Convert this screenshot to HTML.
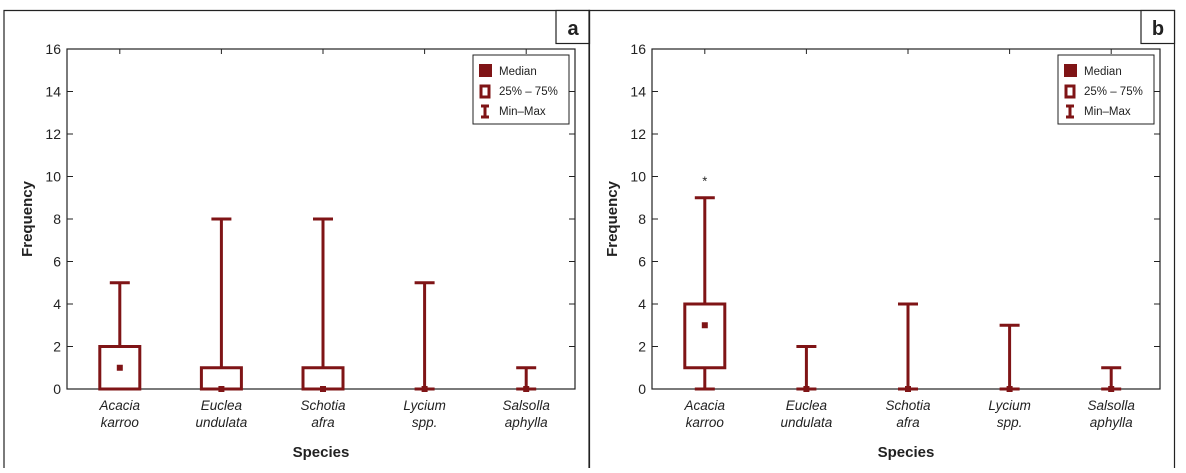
<!DOCTYPE html>
<html><head><meta charset="utf-8"><style>
body{margin:0;background:#fff;}
svg text{font-family:"Liberation Sans",sans-serif;fill:#222;}
</style></head><body>
<svg id="c" width="1186" height="468" xmlns="http://www.w3.org/2000/svg"></svg>
<script>
const categories=[["Acacia","karroo"],["Euclea","undulata"],["Schotia","afra"],["Lycium","spp."],["Salsolla","aphylla"]];
const aMin=[0,0,0,0,0];
const aMax=[5,8,8,5,1];
const aQ1=[0,0,0,0,0];
const aQ3=[2,1,1,0,0];
const aMed=[1,0,0,0,0];
const bMin=[0,0,0,0,0];
const bMax=[9,2,4,3,1];
const bQ1=[1,0,0,0,0];
const bQ3=[4,0,0,0,0];
const bMed=[3,0,0,0,0];
const bOutlier=[10,null,null,null,null];
const yTicks=[0,2,4,6,8,10,12,14,16];
const C="#7f1416";
const svg=document.getElementById('c');
const NS="http://www.w3.org/2000/svg";
function mk(t,a,p){const e=document.createElementNS(NS,t);for(const k in a)e.setAttribute(k,a[k]);(p||svg).appendChild(e);return e;}
function panel(id,ox,lab,mn,mx,q1,q3,md,out){
  const g=mk('g',{});
  
  
  mk('path',{d:`M${ox+4} 468 V10.5 H${ox+589.5} V468`,fill:'none',stroke:'#222','stroke-width':1.2},g);
  const lb=mk('rect',{x:ox+556,y:10.5,width:33.5,height:33,fill:'#fff',stroke:'#222','stroke-width':1.2},g);
  
  
  const lt=mk('text',{x:ox+573,y:35,'font-size':20,'font-weight':'bold','text-anchor':'middle'},g);lt.textContent=id;
  
  
  const L=ox+67,R=ox+575,T=49,B=389;
  const y=v=>B-(v/16)*(B-T);
  const x=i=>L+(i+0.5)*(R-L)/5+2;
  mk('rect',{x:L,y:T,width:R-L,height:B-T,fill:'none',stroke:'#222','stroke-width':1.2},g);
  yTicks.forEach(t=>{mk('line',{x1:L,x2:L+6,y1:y(t),y2:y(t),stroke:'#222'},g);mk('line',{x1:R,x2:R-6,y1:y(t),y2:y(t),stroke:'#222'},g);
    const tx=mk('text',{x:L-6,y:y(t)+5,'font-size':14,'text-anchor':'end'},g);tx.textContent=t;
    
    });
  const yt=mk('text',{x:0,y:0,'font-size':15,'font-weight':'bold','text-anchor':'middle',transform:`translate(${ox+32},${(T+B)/2}) rotate(-90)`},g);yt.textContent='Frequency';
  
  
  const xt=mk('text',{x:(L+R)/2,y:457,'font-size':15,'font-weight':'bold','text-anchor':'middle'},g);xt.textContent='Species';
  
  
  categories.forEach((c,i)=>{const cx=x(i);
    mk('line',{x1:cx,x2:cx,y1:T,y2:T+5,stroke:'#222'},g);
    const t1=mk('text',{x:cx,y:410,'font-size':13.5,'font-style':'italic','text-anchor':'middle'},g);t1.textContent=c[0];
    
    
    const t2=mk('text',{x:cx,y:427,'font-size':13.5,'font-style':'italic','text-anchor':'middle'},g);t2.textContent=c[1];
    const bx=mk('g',{},g);
    
    
    mk('line',{x1:cx,x2:cx,y1:y(mx[i]),y2:y(q3[i]),stroke:C,'stroke-width':3},bx);
    mk('line',{x1:cx,x2:cx,y1:y(mn[i]),y2:y(q1[i]),stroke:C,'stroke-width':3},bx);
    mk('line',{x1:cx-10,x2:cx+10,y1:y(mx[i]),y2:y(mx[i]),stroke:C,'stroke-width':3},bx);
    mk('line',{x1:cx-10,x2:cx+10,y1:y(mn[i]),y2:y(mn[i]),stroke:C,'stroke-width':3},bx);
    if(q3[i]>q1[i])mk('rect',{x:cx-20,y:y(q3[i]),width:40,height:y(q1[i])-y(q3[i]),fill:'none',stroke:C,'stroke-width':3},bx);
    mk('rect',{x:cx-3,y:y(md[i])-3,width:6,height:6,fill:C},bx);
    if(out&&out[i]!=null){const o=mk('text',{x:cx,y:y(out[i])+9,'font-size':13,'text-anchor':'middle'},bx);o.textContent='*';}
  });
  const lg=mk('g',{},g);
  
  
  const lx=ox+473,ly=55;
  mk('rect',{x:lx,y:ly,width:96,height:69,fill:'#fff',stroke:'#222','stroke-width':1},lg);
  mk('rect',{x:lx+6,y:ly+9,width:13,height:13,fill:C},lg);
  mk('rect',{x:lx+8,y:ly+31,width:8,height:11,fill:'none',stroke:C,'stroke-width':3},lg);
  mk('path',{d:`M${lx+8} ${ly+51}h8M${lx+12} ${ly+51}v11M${lx+8} ${ly+62}h8`,stroke:C,'stroke-width':3,fill:'none'},lg);
  [['Median',20],['25% – 75%',40],['Min–Max',60]].forEach(([s,dy])=>{const t=mk('text',{x:lx+26,y:ly+dy,'font-size':11.5},lg);t.textContent=s;});
}
panel('a',0,'a',aMin,aMax,aQ1,aQ3,aMed,null);
panel('b',585,'b',bMin,bMax,bQ1,bQ3,bMed,bOutlier);
</script>
</body></html>
